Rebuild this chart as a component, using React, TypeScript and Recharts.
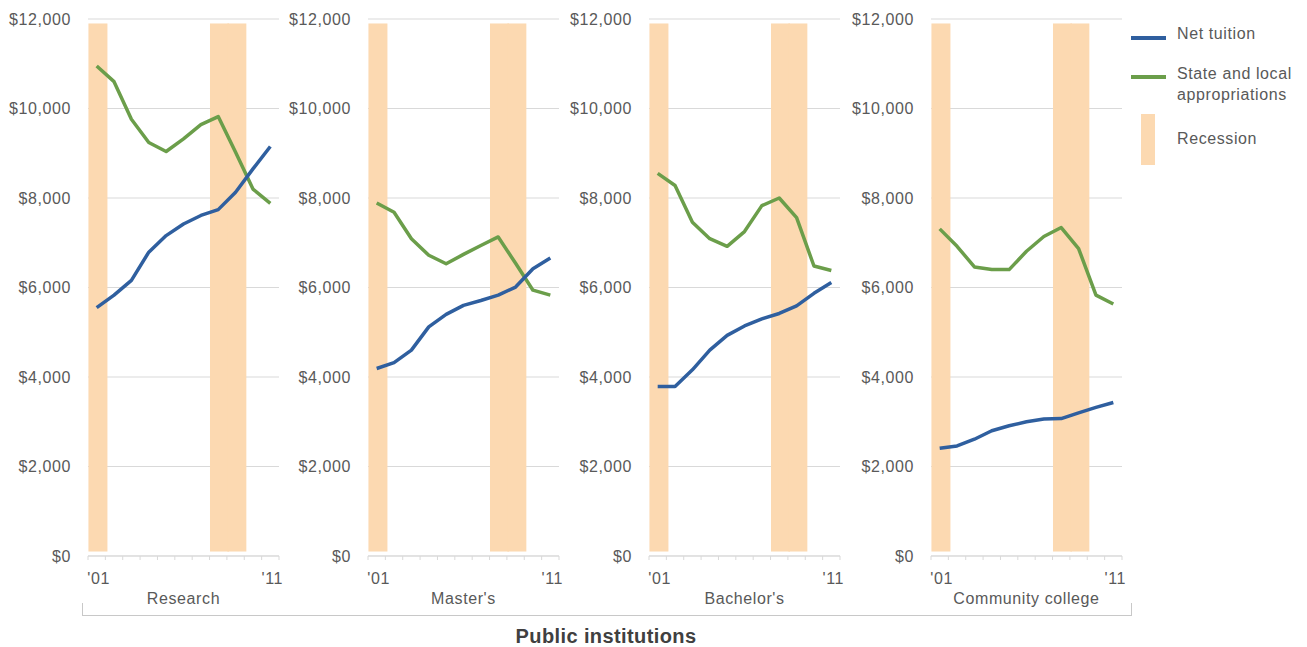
import { ComposedChart, Bar, Line, XAxis, YAxis, CartesianGrid } from 'recharts';

const years = [2001, 2002, 2003, 2004, 2005, 2006, 2007, 2008, 2009, 2010, 2011];
const recession = [1, 0, 0, 0, 0, 0, 0, 1, 1, 0, 0];
const recessionBand = [100, 11900];
const yTicks = [0, 2000, 4000, 6000, 8000, 10000, 12000];

const researchTuition = [5550, 5830, 6160, 6790, 7160, 7420, 7610, 7740, 8130, 8650, 9150];
const researchApprop = [10950, 10600, 9760, 9240, 9040, 9320, 9640, 9820, 9020, 8200, 7880];
const mastersTuition = [4190, 4320, 4600, 5120, 5400, 5600, 5710, 5830, 6010, 6420, 6660];
const mastersApprop = [7890, 7680, 7090, 6720, 6530, 6740, 6940, 7130, 6540, 5940, 5830];
const bachelorsTuition = [3790, 3790, 4160, 4600, 4930, 5140, 5300, 5420, 5590, 5870, 6110];
const bachelorsApprop = [8550, 8280, 7460, 7090, 6920, 7250, 7830, 8000, 7560, 6480, 6380];
const communityTuition = [2410, 2460, 2610, 2800, 2910, 3000, 3060, 3070, 3200, 3320, 3430];
const communityApprop = [7310, 6920, 6460, 6400, 6400, 6810, 7140, 7340, 6870, 5830, 5630];

const panels = [
  { name: 'Research', tuition: researchTuition, approp: researchApprop },
  { name: "Master's", tuition: mastersTuition, approp: mastersApprop },
  { name: "Bachelor's", tuition: bachelorsTuition, approp: bachelorsApprop },
  { name: 'Community college', tuition: communityTuition, approp: communityApprop },
];

const BLUE = '#2f5f9f';
const GREEN = '#6b9e4a';
const PEACH = '#fcd9b1';
const GRID = '#d9d9d9';
const TEXT = '#595959';
const FONT = '"Liberation Sans", Arial, sans-serif';

const chartLefts = [0, 280, 561, 843];
const CHART_W = 295;
const Y_AXIS_W = 88;
const PLOT_W = 191;
const RECESSION_W = 19;

// half-year marks give the tick lines between years, whole years carry the labels
const xTicks = [...years.flatMap((y) => [y - 0.5, y]), years[years.length - 1] + 0.5];

function YearTick(props: any) {
  const { x, y, payload } = props;
  const v = payload.value;
  if (v % 1 !== 0) {
    return <line x1={x} x2={x} y1={y} y2={y + 4} stroke={GRID} strokeWidth={1} />;
  }
  if (v === years[0] || v === years[years.length - 1]) {
    return (
      <text x={x + 2} y={y + 28} textAnchor="middle" fill={TEXT} fontSize={16} letterSpacing={0.6} fontFamily={FONT}>
        {"'" + String(v).slice(2)}
      </text>
    );
  }
  return <g />;
}

// recession shading is a touch wider than one year so neighbouring years join up
function RecessionShape(props: any) {
  const { x, y, width, height } = props;
  if (!height) return <g />;
  const cx = x + width / 2 + 1.2;
  return <rect x={cx - RECESSION_W / 2} y={y} width={RECESSION_W} height={height} fill={PEACH} />;
}

const money = (v: number) => '$' + v.toLocaleString('en-US');

function Panel({ idx }: { idx: number }) {
  const p = panels[idx];
  const data = years.map((year, i) => ({
    year,
    tuition: p.tuition[i],
    approp: p.approp[i],
    recession: recession[i] ? recessionBand : null,
  }));
  return (
    <div style={{ position: 'absolute', left: chartLefts[idx], top: 0 }}>
      <ComposedChart width={CHART_W} height={590} data={data} margin={{ top: 19, right: CHART_W - Y_AXIS_W - PLOT_W, bottom: 0, left: 0 }}>
        <CartesianGrid vertical={false} stroke={GRID} strokeWidth={1} />
        <XAxis
          dataKey="year"
          type="number"
          domain={[years[0] - 0.5, years[years.length - 1] + 0.5]}
          ticks={xTicks}
          interval={0}
          tickLine={false}
          tickSize={0}
          tickMargin={0}
          tick={<YearTick />}
          axisLine={{ stroke: GRID }}
          height={34}
        />
        <YAxis
          type="number"
          domain={[0, 12000]}
          ticks={yTicks}
          tickFormatter={money}
          axisLine={false}
          tickLine={false}
          tickSize={0}
          tickMargin={17}
          width={Y_AXIS_W}
          tick={{ fill: TEXT, fontSize: 16, fontFamily: FONT, letterSpacing: 0.6 }}
        />
        <Bar dataKey="recession" fill={PEACH} shape={<RecessionShape />} isAnimationActive={false} />
        <Line
          type="linear"
          dataKey="approp"
          stroke={GREEN}
          strokeWidth={3.5}
          dot={false}
          strokeLinejoin="round"
          isAnimationActive={false}
        />
        <Line
          type="linear"
          dataKey="tuition"
          stroke={BLUE}
          strokeWidth={3.5}
          dot={false}
          strokeLinejoin="round"
          isAnimationActive={false}
        />
      </ComposedChart>
      <div
        style={{
          position: 'absolute',
          left: Y_AXIS_W,
          top: 589,
          width: PLOT_W,
          textAlign: 'center',
          fontSize: 16,
          letterSpacing: 0.6,
          lineHeight: '20px',
          color: TEXT,
          whiteSpace: 'nowrap',
        }}
      >
        {p.name}
      </div>
    </div>
  );
}

export default function App() {
  const legendText = { position: 'absolute' as const, left: 1177, fontSize: 16, letterSpacing: 0.6, lineHeight: '21px', color: TEXT };
  return (
    <div style={{ position: 'absolute', left: 0, top: 0, width: 1307, height: 647, background: '#fff', fontFamily: FONT, overflow: 'hidden' }}>
      {panels.map((_, i) => (
        <Panel key={i} idx={i} />
      ))}
      <div
        style={{
          position: 'absolute',
          left: 82,
          top: 603,
          width: 1130 - 82,
          height: 12,
          borderLeft: '1.5px solid #c8c8c8',
          borderRight: '1.5px solid #c8c8c8',
          borderBottom: '1.5px solid #c8c8c8',
        }}
      />
      <div
        style={{
          position: 'absolute',
          left: 406,
          width: 400,
          top: 624,
          textAlign: 'center',
          fontSize: 20,
          fontWeight: 'bold',
          letterSpacing: 0.4,
          lineHeight: '24px',
          color: '#404040',
        }}
      >
        Public institutions
      </div>
      <div style={{ position: 'absolute', left: 1131, top: 36, width: 35, height: 3.5, background: BLUE }} />
      <div style={{ ...legendText, top: 23 }}>Net tuition</div>
      <div style={{ position: 'absolute', left: 1131, top: 75, width: 35, height: 3.5, background: GREEN }} />
      <div style={{ ...legendText, top: 63 }}>
        State and local
        <br />
        appropriations
      </div>
      <div style={{ position: 'absolute', left: 1141, top: 114, width: 14, height: 51, background: PEACH }} />
      <div style={{ ...legendText, top: 128 }}>Recession</div>
    </div>
  );
}
